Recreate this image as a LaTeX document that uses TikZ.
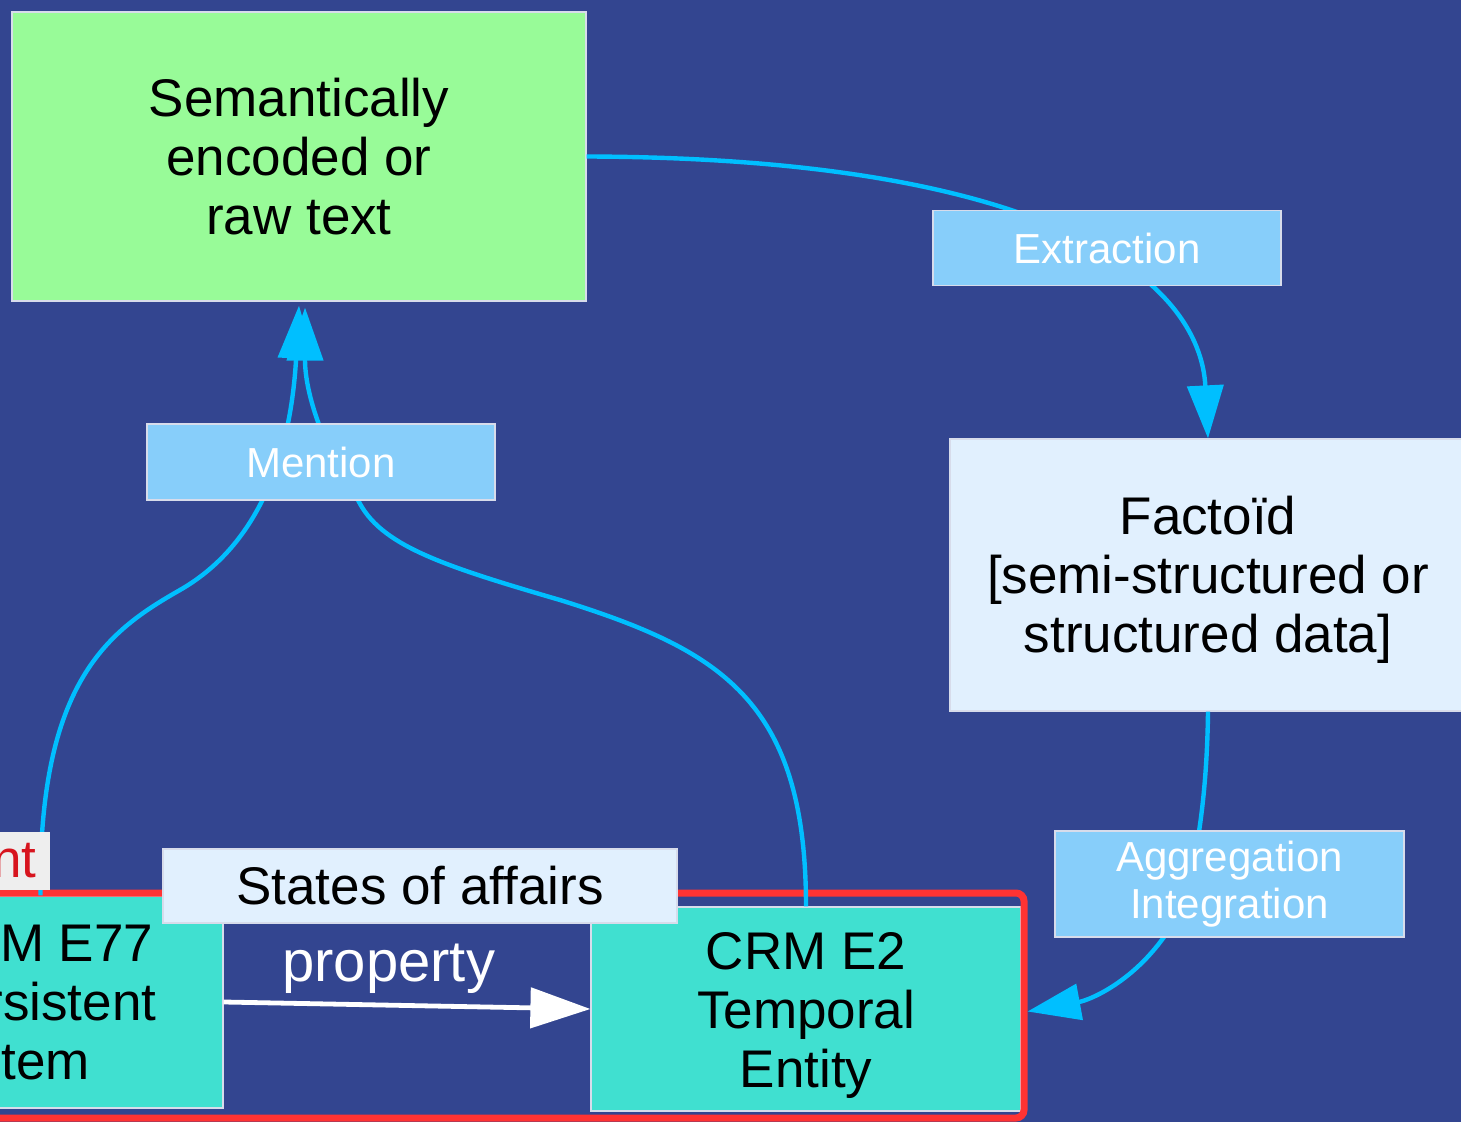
\documentclass[tikz,border=0pt]{standalone}
\usepackage{fontspec}
\setmainfont{Liberation Sans}
\usetikzlibrary{arrows.meta}
\definecolor{bg}{RGB}{51,69,144}
\definecolor{pgreen}{RGB}{152,251,152}
\definecolor{alice}{RGB}{225,240,254}
\definecolor{turq}{RGB}{64,224,208}
\definecolor{lblue}{RGB}{135,206,250}
\definecolor{skyb}{RGB}{0,191,255}
\definecolor{frred}{RGB}{255,51,51}
\definecolor{ntgray}{RGB}{238,238,238}
\definecolor{ntred}{RGB}{215,20,30}
\definecolor{edge}{RGB}{215,220,235}
\tikzset{
  box/.style={draw=edge, line width=0.6pt, inner sep=0pt, align=center,
    font=\fontsize{26.5pt}{29.5pt}\selectfont},
  lbl/.style={fill=lblue, draw=edge, line width=0.6pt, text=white, inner sep=0pt,
    align=center, font=\fontsize{21pt}{23.5pt}\selectfont},
  conn/.style={draw=skyb, line width=2.2pt, -{Triangle[length=26.5pt,width=18pt]}},
  propline/.style={draw=white, line width=2.4pt, -{Triangle[length=30pt,width=20pt]}},
  frame/.style={draw=frred, line width=3.5pt, rounded corners=4pt, inner sep=0pt}
}
\begin{document}
\begin{tikzpicture}[x=0.5pt,y=-0.5pt]
\useasboundingbox (0,0) rectangle (1461,1122);
\clip (0,0) rectangle (1461,1122);
\fill[bg] (0,0) rectangle (1461,1122);

% main boxes
\node[box, fill=pgreen, minimum width=287pt, minimum height=144.5pt] (green) at (299,156.5)
  {Semantically\\encoded or\\raw text};
\node[box, fill=alice, minimum width=258pt, minimum height=136pt] (fact) at (1208,575)
  {\rule{0pt}{24.3pt}Factoïd\\{[}semi-structured or\\structured data{]}};
\node[box, fill=turq, minimum width=184.5pt, minimum height=106pt] (e77) at (38.5,1002)
  {CRM E77\\Persistent\\Item};
\node[box, fill=turq, minimum width=215pt, minimum height=102pt] (e2) at (806,1009)
  {\rule{0pt}{25pt}CRM E2\\Temporal\\Entity};

% red frame
\node[frame, minimum width=527pt, minimum height=112.5pt] (fr) at (497,1005.5) {};

% connectors
\draw[conn] (green.east) .. controls (1050,158) and (1200,280) .. (fact.north);
\draw[conn] ([xshift=1pt]e77.north) .. controls (38,680) and (110,630) .. (180,590)
  .. controls (250,550) and (290,470) .. ([yshift=-2pt]green.south);
\draw[conn] (e2.north) .. controls (806,700) and (720,650) .. (560,600)
  .. controls (440,565) and (380,545) .. (358,500)
  .. controls (330,460) and (305,400) .. ([xshift=3pt,yshift=-3pt]green.south);
\draw[conn] (fact.south) .. controls (1207,800) and (1195,880) .. (1175,920)
  .. controls (1140,980) and (1090,1000) .. ([yshift=-3pt]fr.east);

\draw[propline] (e77.east) -- (e2.west)
  node[pos=0.45, above=4.5pt, inner sep=0pt, text=white,
       font=\fontsize{29pt}{32pt}\selectfont] (prop) {property};

% labels
\node[lbl, minimum width=174pt, minimum height=37.5pt] (ext) at (1107,248) {Extraction};
\node[lbl, minimum width=174pt, minimum height=38pt] (men) at (321,462) {Mention};
\node[lbl, minimum width=174.5pt, minimum height=53pt] (agg) at (1229.5,884)
  {Aggregation\\Integration};
\node[box, fill=alice, minimum width=257pt, minimum height=37pt] (soa) at (420,886)
  {States of affairs};
\node[fill=ntgray, text=ntred, inner xsep=6.5pt, inner ysep=0pt, minimum height=29pt,
      anchor=east, font=\fontsize{26.5pt}{29.5pt}\selectfont] (nt) at (50,861) {nt};
\end{tikzpicture}
\end{document}
